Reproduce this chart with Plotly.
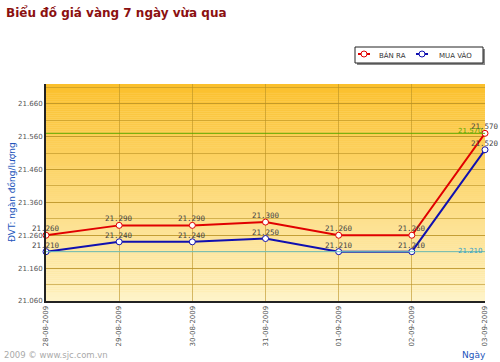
import plotly.graph_objects as go

dates = ["28-08-2009", "29-08-2009", "30-08-2009", "31-08-2009",
         "01-09-2009", "02-09-2009", "03-09-2009"]
ban_ra = [21260, 21290, 21290, 21300, 21260, 21260, 21570]
mua_vao = [21210, 21240, 21240, 21250, 21210, 21210, 21520]

y_ticks = [21060, 21160, 21260, 21360, 21460, 21560, 21660]

RED = "#E00000"
BLUE = "#1010B0"

# plot area in pixels
L, R, T, B = 46, 485, 84, 301
PW, PH = R - L, B - T


def px(x):
    return (x - L) / PW


def py(y):
    return (B - y) / PH


def fmt(v):
    return f"{v:,}".replace(",", ".")


fig = go.Figure()
annotations = []

for name, vals, col in [("BÁN RA", ban_ra, RED), ("MUA VÀO", mua_vao, BLUE)]:
    fig.add_trace(go.Scatter(
        x=dates, y=vals, name=name, mode="lines+markers",
        line=dict(color=col, width=2),
        marker=dict(symbol="circle", size=6, color="white",
                    line=dict(color=col, width=1)),
        cliponaxis=False, showlegend=False,
    ))
    for d, v in zip(dates, vals):
        annotations.append(dict(
            text=fmt(v), x=d, y=v, xref="x", yref="y", xanchor="center",
            yanchor="bottom", yshift=0, showarrow=False,
            font=dict(family="DejaVu Sans Mono", size=7.5, color="#444444")))

shapes = []
# gradient background
n = 110
top = (251, 192, 44)
bot = (254, 243, 200)
for i in range(n):
    t = i / (n - 1)
    c = tuple(round(top[k] + (bot[k] - top[k]) * t) for k in range(3))
    shapes.append(dict(type="rect", xref="paper", yref="paper",
                       x0=0, x1=1, y0=1 - (i + 1) / n, y1=1 - i / n,
                       fillcolor="rgb(%d,%d,%d)" % c, line=dict(width=0),
                       layer="below"))

vmax = max(ban_ra)
vmin = min(mua_vao)
shapes.append(dict(type="line", xref="paper", yref="y", x0=0, x1=1,
                   y0=vmax, y1=vmax, line=dict(color="#5FA800", width=1)))
shapes.append(dict(type="line", xref="paper", yref="y", x0=0, x1=1,
                   y0=vmin, y1=vmin, line=dict(color="#6CC0C0", width=1)))

# legend box (drawn by hand so it can be as compact as the reference)
shapes.append(dict(type="rect", xref="paper", yref="paper",
                   x0=px(357), x1=px(485), y0=py(65), y1=py(49),
                   fillcolor="#8a8a8a", line=dict(width=0)))
shapes.append(dict(type="rect", xref="paper", yref="paper",
                   x0=px(355), x1=px(483), y0=py(63), y1=py(47),
                   fillcolor="white", line=dict(color="#222222", width=1)))
for cx, col in [(364, RED), (422, BLUE)]:
    shapes.append(dict(type="line", xref="paper", yref="paper",
                       x0=px(cx - 6), x1=px(cx + 6), y0=py(54), y1=py(54),
                       line=dict(color=col, width=2)))
    shapes.append(dict(type="circle", xref="paper", yref="paper",
                       x0=px(cx - 3), x1=px(cx + 3), y0=py(57), y1=py(51),
                       fillcolor="white", line=dict(color=col, width=1)))

annotations += [
    dict(text="<b>Biểu đồ giá vàng 7 ngày vừa qua</b>", xref="paper", yref="paper",
         x=px(4), y=py(12), xanchor="left", yanchor="middle",
         showarrow=False, font=dict(family="DejaVu Sans", size=12, color="#8B1010")),
    dict(text="ĐVT: ngàn đồng/lượng", xref="paper", yref="paper",
         x=px(12), y=py(192), xanchor="center", yanchor="middle", textangle=-90,
         showarrow=False, font=dict(family="DejaVu Sans", size=9, color="#2255BB")),
    dict(text="2009 © www.sjc.com.vn", xref="paper", yref="paper",
         x=px(2), y=py(355), xanchor="left", yanchor="middle",
         showarrow=False, font=dict(family="DejaVu Sans", size=8.5, color="#AAAAAA")),
    dict(text="Ngày", xref="paper", yref="paper",
         x=px(488), y=py(355), xanchor="right", yanchor="middle",
         showarrow=False, font=dict(family="DejaVu Sans", size=9, color="#2255BB")),
    dict(text="BÁN RA", xref="paper", yref="paper",
         x=px(377), y=py(55), xanchor="left", yanchor="middle",
         showarrow=False, font=dict(family="DejaVu Sans", size=7, color="#333333")),
    dict(text="MUA VÀO", xref="paper", yref="paper",
         x=px(437), y=py(55), xanchor="left", yanchor="middle",
         showarrow=False, font=dict(family="DejaVu Sans", size=7, color="#333333")),
    dict(text=fmt(vmax), xref="paper", yref="y", x=1, y=vmax, yshift=2,
         xanchor="right", yanchor="middle", showarrow=False,
         font=dict(family="DejaVu Sans", size=7, color="#5FA800")),
    dict(text=fmt(vmin), xref="paper", yref="y", x=1, y=vmin, yshift=1,
         xanchor="right", yanchor="middle", showarrow=False,
         font=dict(family="DejaVu Sans", size=7, color="#30A0C8")),
]

GRID = "rgba(185,145,35,0.6)"
fig.update_layout(
    width=500, height=362,
    margin=dict(l=L, r=500 - R, t=T, b=362 - B, autoexpand=False),
    paper_bgcolor="white", plot_bgcolor="#FDE08A",
    shapes=shapes, annotations=annotations,
    showlegend=False,
    xaxis=dict(type="category", range=[0, 6], tickangle=-90, automargin=False,
               tickfont=dict(family="DejaVu Sans", size=7, color="#555555"),
               showgrid=True, gridcolor=GRID, gridwidth=1,
               showline=True, linecolor="#222222", linewidth=2,
               ticks="", zeroline=False),
    yaxis=dict(range=[21060, 21720], tickvals=y_ticks, automargin=False,
               ticktext=[fmt(v) for v in y_ticks],
               tickfont=dict(family="DejaVu Sans", size=7, color="#555555"),
               showgrid=True, gridcolor=GRID, gridwidth=1,
               minor=dict(dtick=50, tick0=21060, showgrid=True,
                          gridcolor=GRID, gridwidth=1),
               showline=True, linecolor="#222222", linewidth=2,
               ticks="", zeroline=False),
)

fig.write_html("out.html", config={"displayModeBar": False},
               post_script="document.body.style.margin='0px';")
